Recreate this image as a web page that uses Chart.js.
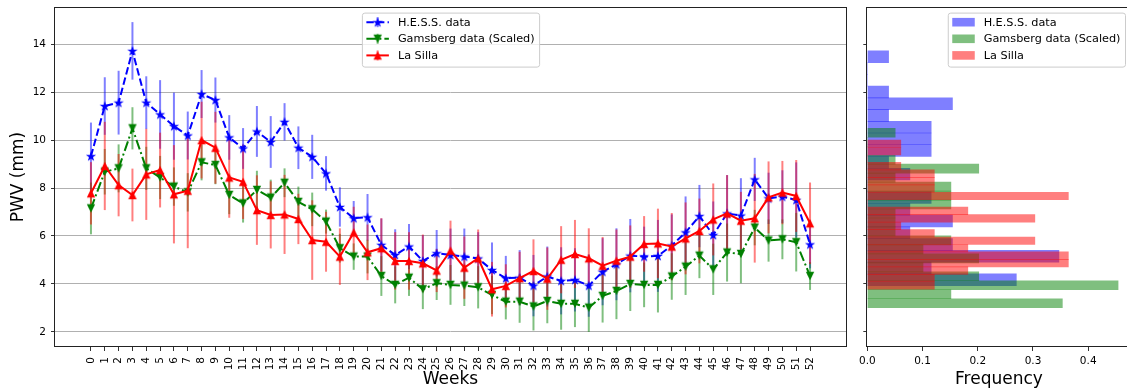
<!DOCTYPE html>
<html>
<head>
<meta charset="utf-8">
<script src="https://cdn.jsdelivr.net/npm/chart.js@4/dist/chart.umd.min.js"></script>
<style>
  html, body { margin: 0; padding: 0; background: #fff; overflow: hidden; }
  #wrap { position: relative; width: 1127px; height: 391px; overflow: hidden; }
  #pwvChart { position: absolute; left: 0; top: 0; }
  #histChart { position: absolute; left: 855px; top: 0; }
</style>
</head>
<body>
<div id="wrap">
  <canvas id="pwvChart" width="855" height="391"></canvas>
  <canvas id="histChart" width="280" height="391"></canvas>
</div>
<script>
// weekly PWV values (mm)
const weeks = Array.from({ length: 53 }, (_, i) => i);
const seriesNames = ['H.E.S.S. data', 'Gamsberg data (Scaled)', 'La Silla'];

const hess = [9.33, 11.42, 11.56, 13.72, 11.56, 11.07, 10.58, 10.19, 11.92, 11.67,
  10.11, 9.65, 10.36, 9.92, 10.76, 9.68, 9.30, 8.61, 7.21, 6.74,
  6.78, 5.63, 5.21, 5.56, 4.96, 5.28, 5.21, 5.14, 5.06, 4.58,
  4.24, 4.26, 3.93, 4.31, 4.13, 4.17, 3.93, 4.51, 4.82, 5.18,
  5.14, 5.17, 5.60, 6.15, 6.83, 6.04, 6.94, 6.85, 8.36, 7.57,
  7.64, 7.50, 5.65];
const hessErr = [1.4, 1.2, 1.33, 1.2, 1.1, 1.43, 1.4, 1.0, 1.0, 0.94,
  0.93, 0.85, 1.06, 1.08, 0.78, 0.89, 0.92, 0.72, 0.82, 0.72,
  0.97, 1.1, 1.07, 0.94, 1.07, 0.97, 1.1, 1.17, 1.1, 1.15,
  0.93, 1.15, 1.28, 1.25, 1.4, 1.32, 1.3, 1.4, 1.5, 1.53,
  1.25, 1.5, 1.3, 1.5, 1.3, 1.4, 1.6, 1.56, 0.9, 1.07,
  1.1, 1.57, 1.0];

const gamsberg = [7.15, 8.68, 8.82, 10.49, 8.82, 8.44, 8.06, 7.82, 9.07, 8.96,
  7.71, 7.36, 7.92, 7.60, 8.22, 7.42, 7.11, 6.60, 5.49, 5.14,
  5.14, 4.33, 3.96, 4.26, 3.78, 4.03, 3.96, 3.93, 3.86, 3.54,
  3.26, 3.26, 3.06, 3.29, 3.17, 3.17, 3.01, 3.50, 3.71, 4.00,
  3.96, 3.96, 4.31, 4.72, 5.18, 4.61, 5.31, 5.25, 6.35, 5.81,
  5.86, 5.74, 4.33];
const gamsbergErr = [1.08, 0.95, 1.0, 0.88, 0.9, 0.9, 0.8, 0.8, 0.75, 0.8,
  0.8, 0.8, 0.8, 0.75, 0.6, 0.64, 0.7, 0.5, 0.6, 0.55,
  0.7, 0.83, 0.77, 0.76, 0.83, 0.7, 0.83, 0.85, 0.88, 0.8,
  0.74, 0.88, 1.0, 0.93, 1.08, 0.97, 1.01, 1.11, 1.18, 1.13,
  0.93, 1.15, 0.97, 1.18, 0.94, 1.07, 1.21, 1.22, 0.74, 0.88,
  0.83, 1.22, 0.58];

const laSilla = [7.78, 8.92, 8.12, 7.71, 8.57, 8.75, 7.74, 7.89, 10.0, 9.68,
  8.44, 8.26, 7.08, 6.88, 6.90, 6.71, 5.83, 5.76, 5.14, 6.15,
  5.32, 5.49, 4.96, 4.96, 4.86, 4.56, 5.39, 4.68, 5.07, 3.78,
  3.92, 4.24, 4.54, 4.22, 5.01, 5.25, 5.07, 4.76, 4.97, 5.14,
  5.67, 5.69, 5.56, 5.90, 6.21, 6.69, 6.94, 6.64, 6.74, 7.61,
  7.81, 7.67, 6.53];
const laSillaErr = [1.3, 1.84, 1.3, 1.1, 1.9, 1.56, 2.05, 2.4, 1.6, 1.5,
  1.68, 1.55, 1.45, 1.4, 1.65, 1.05, 1.66, 1.25, 1.18, 1.07,
  1.16, 1.25, 1.2, 1.2, 1.2, 0.9, 1.25, 1.3, 1.2, 1.14,
  0.9, 1.1, 1.32, 1.3, 1.4, 1.42, 1.25, 1.2, 1.3, 1.3,
  1.16, 1.45, 1.4, 1.5, 1.35, 1.5, 1.6, 1.2, 1.85, 1.5,
  1.32, 1.5, 1.7];

const yTicks = [2, 4, 6, 8, 10, 12, 14];
const freqTicks = [0, 0.1, 0.2, 0.3, 0.4];
const HIST_BINS = 20;
const Y_MIN = 1.37, Y_MAX = 15.55;

Chart.defaults.font.family = '"DejaVu Sans", sans-serif';
Chart.defaults.font.size = 10.5;
Chart.defaults.color = '#000';
Chart.defaults.animation = false;

// matplotlib-like marker glyphs
function makeMarker(shape, color) {
  const c = document.createElement('canvas');
  c.width = 12; c.height = 12;
  const g = c.getContext('2d');
  g.fillStyle = color;
  g.beginPath();
  if (shape === 'star') {
    for (let i = 0; i < 10; i++) {
      const r = i % 2 ? 2.1 : 5.4;
      const a = -Math.PI / 2 + i * Math.PI / 5;
      g.lineTo(6 + r * Math.cos(a), 6.4 + r * Math.sin(a));
    }
  } else if (shape === 'up') {
    g.moveTo(6, 1.8); g.lineTo(10.2, 10.2); g.lineTo(1.8, 10.2);
  } else {
    g.moveTo(1.8, 1.8); g.lineTo(10.2, 1.8); g.lineTo(6, 10.2);
  }
  g.closePath();
  g.fill();
  return c;
}

function histogram(values, nBins) {
  const lo = Math.min(...values), hi = Math.max(...values);
  const w = (hi - lo) / nBins;
  const counts = new Array(nBins).fill(0);
  values.forEach(v => {
    let k = Math.floor((v - lo) / w);
    if (k >= nBins) k = nBins - 1;
    counts[k]++;
  });
  return counts.map((c, k) => ({ y: lo + (k + 0.5) * w, x: c / (values.length * w) }));
}

const setTicks = list => scale => { scale.ticks = list.map(v => ({ value: v })); };
const noPad = s => { s.paddingTop = 0; s.paddingBottom = 0; s.paddingLeft = 0; s.paddingRight = 0; };

const errorBars = {
  id: 'errorBars',
  beforeDatasetsDraw(chart) {
    const ctx = chart.ctx, a = chart.chartArea;
    const xs = chart.scales.x, ys = chart.scales.y;
    ctx.save();
    ctx.beginPath();
    ctx.rect(a.left, a.top, a.right - a.left, a.bottom - a.top);
    ctx.clip();
    chart.data.datasets.forEach(ds => {
      ctx.strokeStyle = ds.errorColor;
      ctx.lineWidth = 2;
      ds.data.forEach((p, i) => {
        const px = xs.getPixelForValue(p.x);
        ctx.beginPath();
        ctx.moveTo(px, ys.getPixelForValue(p.y - ds.errors[i]));
        ctx.lineTo(px, ys.getPixelForValue(p.y + ds.errors[i]));
        ctx.stroke();
      });
    });
    ctx.restore();
  }
};

// axes frame + matplotlib style legend box
const frameLegend = {
  id: 'frameLegend',
  afterDraw(chart, args, opts) {
    const ctx = chart.ctx, a = chart.chartArea;
    ctx.save();
    ctx.strokeStyle = '#222';
    ctx.lineWidth = 1;
    ctx.strokeRect(Math.round(a.left) - 0.5, Math.round(a.top) + 0.5,
      Math.round(a.right - a.left) + 1, Math.round(a.bottom - a.top) - 1);

    const fs = 11.25;
    ctx.font = fs + 'px "DejaVu Sans"';
    const items = chart.data.datasets;
    const textW = Math.max(...items.map(d => ctx.measureText(d.label).width));
    const w = 4.5 + 22.5 + 9 + textW + 4.5;
    const h = 54;
    const x0 = opts.where === 'center' ? (a.left + a.right) / 2 - w / 2 : a.right - 5.6 - w;
    const y0 = a.top + 5.6;
    ctx.beginPath();
    ctx.roundRect(x0 + 0.5, y0 + 0.5, w, h, 2.5);
    ctx.fillStyle = 'rgba(255,255,255,0.8)';
    ctx.fill();
    ctx.strokeStyle = '#cccccc';
    ctx.stroke();

    items.forEach((d, i) => {
      const cy = y0 + 9.6 + i * 16.6;
      const hx = x0 + 4.5, hc = hx + 11.25;
      if (opts.where === 'center') {
        ctx.strokeStyle = d.errorColor;
        ctx.lineWidth = 2;
        ctx.setLineDash([]);
        ctx.beginPath(); ctx.moveTo(hc, cy - 5); ctx.lineTo(hc, cy + 5); ctx.stroke();
        ctx.strokeStyle = d.borderColor;
        ctx.setLineDash(d.borderDash || []);
        ctx.beginPath(); ctx.moveTo(hx, cy); ctx.lineTo(hx + 22.5, cy); ctx.stroke();
        ctx.setLineDash([]);
        ctx.drawImage(d.pointStyle, hc - 6, cy - 6);
      } else {
        ctx.fillStyle = d.backgroundColor;
        ctx.fillRect(hx, cy - 4.3, 22.5, 8.6);
      }
      ctx.fillStyle = '#000';
      ctx.textBaseline = 'middle';
      ctx.fillText(d.label, x0 + 36, cy + 0.5);
    });
    ctx.restore();
  }
};

const styles = [
  { color: '#0000ff', err: 'rgba(0,0,255,0.5)', fill: 'rgba(0,0,255,0.5)', dash: [7.4, 3.2], marker: makeMarker('star', '#0000ff') },
  { color: '#008000', err: 'rgba(0,128,0,0.5)', fill: 'rgba(0,128,0,0.5)', dash: [10, 3, 2, 3], marker: makeMarker('down', '#008000') },
  { color: '#ff0000', err: 'rgba(255,0,0,0.5)', fill: 'rgba(255,0,0,0.5)', dash: [], marker: makeMarker('up', '#ff0000') }
];
const seriesValues = [hess, gamsberg, laSilla];
const seriesErrors = [hessErr, gamsbergErr, laSillaErr];

new Chart(document.getElementById('pwvChart'), {
  type: 'line',
  data: {
    datasets: seriesValues.map((vals, s) => ({
      label: seriesNames[s],
      data: weeks.map((w, i) => ({ x: w, y: vals[i] })),
      errors: seriesErrors[s],
      errorColor: styles[s].err,
      borderColor: styles[s].color,
      backgroundColor: styles[s].color,
      borderWidth: 2,
      borderDash: styles[s].dash,
      pointStyle: styles[s].marker,
      pointRadius: 5,
      order: 3 - s
    }))
  },
  options: {
    responsive: false,
    layout: { padding: { top: 7, right: 9, left: 0, bottom: 0 } },
    plugins: { legend: { display: false }, tooltip: { enabled: false }, frameLegend: { where: 'center' } },
    scales: {
      x: {
        type: 'linear', min: -2.6, max: 54.6,
        afterBuildTicks: setTicks(weeks),
        afterFit: s => { s.height = 44; noPad(s); },
        ticks: { autoSkip: false, minRotation: 90, maxRotation: 90, padding: 6, font: { size: 10.5 }, callback: v => String(v) },
        grid: { drawOnChartArea: false, tickLength: 4, tickColor: '#333' },
        border: { display: false },
        title: { display: true, text: 'Weeks', font: { size: 17 }, padding: { top: 0, bottom: 1 } }
      },
      y: {
        type: 'linear', min: Y_MIN, max: Y_MAX,
        afterBuildTicks: setTicks(yTicks),
        afterFit: s => { s.width = 55; noPad(s); },
        ticks: { padding: 5, font: { size: 10.5 } },
        grid: { color: '#b0b0b0', lineWidth: 1, tickLength: 4, tickColor: '#333' },
        border: { display: false },
        title: { display: true, text: 'PWV (mm)', font: { size: 17 }, padding: { top: 8, bottom: 0 } }
      }
    }
  },
  plugins: [errorBars, frameLegend]
});

const hists = seriesValues.map(v => histogram(v, HIST_BINS));
const freqMax = Math.max(...hists.flat().map(p => p.x)) * 1.05;
const yAxisIds = ['y', 'y1', 'y2'];
const histY = visible => ({
  type: 'linear', min: Y_MIN, max: Y_MAX, display: visible, offset: false,
  afterBuildTicks: setTicks(yTicks),
  afterFit: s => { if (visible) s.width = 12.3; noPad(s); },
  ticks: { display: false },
  grid: { drawOnChartArea: false, offset: false, tickLength: 4, tickColor: '#333' },
  border: { display: false }
});

new Chart(document.getElementById('histChart'), {
  type: 'bar',
  data: {
    datasets: hists.map((h, s) => ({
      label: seriesNames[s],
      data: h,
      yAxisID: yAxisIds[s],
      backgroundColor: styles[s].fill,
      borderWidth: 0,
      grouped: false,
      barPercentage: 1,
      categoryPercentage: 1,
      order: 3 - s
    }))
  },
  options: {
    responsive: false,
    indexAxis: 'y',
    layout: { padding: { top: 7, right: 4.4, left: 0, bottom: 0 } },
    plugins: { legend: { display: false }, tooltip: { enabled: false }, frameLegend: { where: 'right' } },
    scales: {
      x: {
        type: 'linear', min: 0, max: freqMax,
        afterBuildTicks: setTicks(freqTicks),
        afterFit: s => { s.height = 44; noPad(s); },
        ticks: { padding: 4, font: { size: 10.5 }, callback: v => v.toFixed(1) },
        grid: { drawOnChartArea: false, tickLength: 4, tickColor: '#333' },
        border: { display: false },
        title: { display: true, text: 'Frequency', font: { size: 17 }, padding: { top: 0, bottom: 1 } }
      },
      y: histY(true),
      y1: histY(false),
      y2: histY(false)
    }
  },
  plugins: [frameLegend]
});
</script>
</body>
</html>
